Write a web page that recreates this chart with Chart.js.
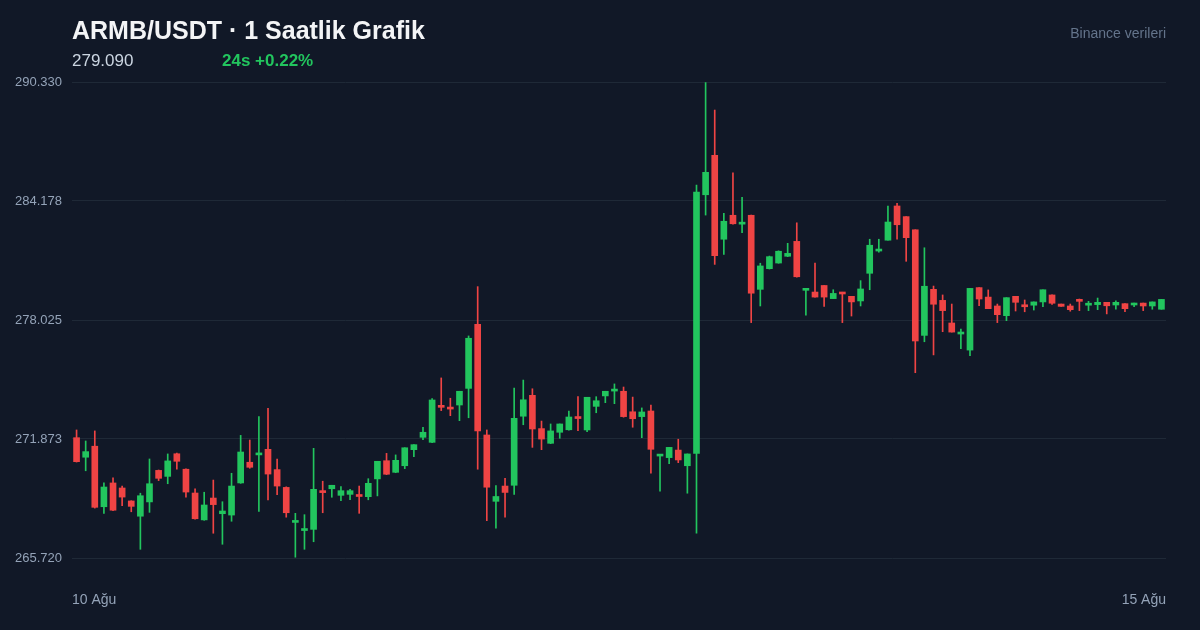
<!DOCTYPE html>
<html lang="tr">
<head>
<meta charset="utf-8">
<title>ARMB/USDT 1 Saatlik Grafik</title>
<script src="https://cdn.jsdelivr.net/npm/chart.js@4.4.1/dist/chart.umd.min.js"></script>
<style>
  html, body { margin: 0; padding: 0; background: #111827; }
  body { width: 1200px; height: 630px; position: relative; overflow: hidden; font-family: "Liberation Sans", Arial, sans-serif; }
  #wrap { position: absolute; left: 0; top: 0; width: 1200px; height: 630px; }
  .title { position: absolute; left: 72px; top: 16px; font-size: 25px; font-weight: bold; color: #f3f4f6; }
  .price { position: absolute; left: 72px; top: 51px; font-size: 17px; color: #cbd5e1; }
  .change { position: absolute; left: 222px; top: 51px; font-size: 17px; font-weight: bold; color: #22c55e; }
  .source { position: absolute; right: 34px; top: 25px; font-size: 14px; color: #64748b; }
</style>
</head>
<body>
<div id="wrap"><canvas id="myChart" width="1200" height="630"></canvas></div>
<div class="title">ARMB/USDT · 1 Saatlik Grafik</div>
<div class="price">279.090</div>
<div class="change">24s +0.22%</div>
<div class="source">Binance verileri</div>
<script>
// hourly candles, 10 Ağu -> 15 Ağu
const opens = [
  271.94, 270.93, 271.50, 268.37, 269.60, 269.34, 268.67, 267.88, 268.62, 270.25,
  269.94, 271.11, 270.31, 269.08, 267.69, 268.82, 268.01, 267.94, 269.60, 270.67,
  271.05, 271.34, 270.29, 269.37, 267.56, 267.14, 267.20, 269.17, 269.30, 268.96,
  269.01, 268.95, 268.89, 269.81, 270.75, 270.15, 270.49, 271.32, 271.96, 271.70,
  273.58, 273.50, 273.63, 274.49, 277.80, 272.08, 268.65, 269.44, 269.48, 273.05,
  274.13, 272.41, 271.65, 272.22, 272.35, 272.98, 272.34, 273.56, 274.10, 274.35,
  274.34, 273.28, 273.03, 273.32, 270.99, 270.91, 271.30, 270.49, 271.13, 284.50,
  286.54, 282.20, 283.44, 282.98, 283.44, 279.61, 280.68, 280.97, 281.32, 282.09,
  279.56, 279.47, 279.81, 279.13, 279.42, 279.25, 279.01, 280.44, 281.59, 282.15,
  283.92, 283.37, 282.69, 277.23, 279.61, 279.04, 277.87, 277.30, 276.47, 279.70,
  279.21, 278.75, 278.25, 279.25, 278.76, 278.79, 278.96, 279.32, 278.85, 278.75,
  279.04, 278.79, 278.82, 278.94, 278.80, 278.87, 278.80, 278.90, 278.75, 278.58
]
const highs = [
  272.34, 271.77, 272.29, 269.61, 269.87, 269.44, 268.68, 269.07, 270.84, 270.27,
  271.10, 271.15, 270.33, 269.30, 269.12, 269.75, 268.63, 270.10, 272.06, 271.82,
  273.03, 273.46, 270.84, 269.40, 268.03, 267.96, 271.39, 269.69, 269.48, 269.41,
  269.27, 269.44, 269.82, 270.72, 271.13, 271.05, 271.42, 271.58, 272.48, 273.96,
  275.03, 273.98, 274.34, 277.20, 279.75, 272.34, 269.46, 269.84, 274.51, 274.92,
  274.47, 272.80, 272.65, 272.65, 273.31, 274.06, 274.03, 274.06, 274.34, 274.72,
  274.56, 274.04, 273.48, 273.63, 271.05, 271.44, 271.86, 271.10, 285.00, 290.30,
  288.88, 283.54, 285.63, 284.37, 283.45, 280.96, 281.33, 281.60, 281.99, 283.05,
  279.60, 280.97, 279.81, 279.59, 279.46, 279.25, 280.06, 282.20, 282.20, 283.92,
  284.06, 283.37, 282.69, 281.76, 279.78, 279.32, 278.85, 277.56, 279.66, 279.70,
  279.58, 278.85, 279.18, 279.25, 279.06, 278.96, 279.59, 279.32, 278.85, 278.85,
  279.11, 278.99, 279.16, 278.94, 279.01, 278.87, 278.90, 278.90, 278.96, 279.09
]
const lows = [
  270.68, 270.23, 268.30, 268.03, 268.17, 268.42, 268.11, 266.17, 268.08, 269.72,
  269.56, 270.31, 268.87, 267.73, 267.67, 267.00, 266.43, 267.62, 269.58, 270.36,
  268.13, 268.72, 268.99, 267.83, 265.76, 266.17, 266.56, 268.06, 268.86, 268.68,
  268.73, 268.03, 268.73, 268.93, 270.03, 270.13, 270.34, 270.96, 271.84, 271.68,
  273.34, 273.08, 272.82, 272.97, 270.31, 267.65, 267.26, 267.83, 269.01, 272.61,
  271.44, 271.32, 271.63, 271.91, 272.33, 272.30, 272.25, 273.23, 273.75, 273.70,
  273.00, 272.48, 271.94, 270.10, 269.18, 270.60, 270.65, 269.07, 267.00, 283.45,
  280.90, 281.42, 282.98, 282.54, 277.89, 278.75, 280.66, 280.96, 281.30, 280.24,
  278.28, 279.20, 278.73, 279.13, 277.89, 278.23, 278.75, 279.59, 281.53, 282.15,
  282.20, 281.06, 275.30, 276.90, 276.22, 277.42, 277.40, 276.54, 276.18, 278.76,
  278.61, 277.89, 277.99, 278.49, 278.45, 278.54, 278.71, 278.83, 278.73, 278.48,
  278.51, 278.51, 278.56, 278.34, 278.58, 278.45, 278.71, 278.51, 278.58, 278.58
]
const closes = [
  270.70, 271.22, 268.34, 269.39, 268.19, 268.87, 268.39, 268.94, 269.56, 269.84,
  270.74, 270.72, 269.13, 267.75, 268.46, 268.48, 268.15, 269.44, 271.20, 270.41,
  271.12, 270.06, 269.44, 268.06, 267.63, 267.22, 269.27, 269.10, 269.48, 269.20,
  269.20, 268.90, 269.58, 270.72, 270.05, 270.77, 271.42, 271.58, 272.22, 273.89,
  273.51, 273.42, 274.34, 277.08, 272.29, 269.38, 268.90, 269.11, 272.94, 273.90,
  272.39, 271.87, 272.29, 272.65, 273.01, 272.93, 274.03, 273.85, 274.34, 274.43,
  273.03, 272.92, 273.27, 271.34, 271.05, 271.44, 270.79, 271.10, 284.64, 285.66,
  281.35, 283.13, 283.00, 283.03, 279.41, 280.82, 281.30, 281.58, 281.47, 280.26,
  279.60, 279.21, 279.21, 279.40, 279.37, 278.96, 279.63, 281.89, 281.64, 283.09,
  282.95, 282.28, 276.94, 279.77, 278.84, 278.51, 277.40, 277.34, 279.66, 279.11,
  278.61, 278.30, 279.18, 278.94, 278.71, 278.96, 279.59, 278.89, 278.73, 278.56,
  278.99, 278.84, 278.94, 278.76, 278.94, 278.61, 278.90, 278.75, 278.96, 279.09
]
const xTickLabels = ['10 Ağu', '15 Ağu']
const yTickValues = [265.720, 271.873, 278.025, 284.178, 290.330]

const upColor = '#22c55e'
const downColor = '#ef4444'

function candleColors() {
  let colors = []
  for (let i = 0; i < opens.length; i++) {
    colors.push(closes[i] >= opens[i] ? upColor : downColor)
  }
  return colors
}

let colors = candleColors()
let wickData = []
let bodyData = []
for (let i = 0; i < opens.length; i++) {
  wickData.push({ x: i, y: [lows[i], highs[i]] })
  bodyData.push({ x: i, y: [opens[i], closes[i]] })
}

let data = {
  datasets: [{
    label: 'wick',
    data: wickData,
    backgroundColor: colors,
    borderWidth: 0,
    barThickness: 1,
    grouped: false,
    order: 2
  }, {
    label: 'body',
    data: bodyData,
    backgroundColor: colors,
    borderWidth: 0,
    barThickness: 6,
    minBarLength: 2,
    grouped: false,
    order: 1
  }]
}

let config = {
  type: 'bar',
  data: data,
  options: {
    responsive: false,
    animation: false,
    layout: {
      padding: { left: 0, right: 34, top: 82, bottom: 0 }
    },
    plugins: {
      legend: { display: false },
      tooltip: { enabled: false }
    },
    scales: {
      x: {
        type: 'linear',
        offset: false,
        min: -0.5,
        max: opens.length - 0.5,
        grid: { display: false, offset: false },
        border: { display: false },
        afterBuildTicks: function (scale) {
          scale.ticks = [{ value: -0.5 }, { value: opens.length - 0.5 }]
        },
        afterFit: function (scale) {
          scale.height = 72
        },
        ticks: {
          align: 'inner',
          maxRotation: 0,
          padding: 26,
          color: '#94a3b8',
          font: { family: 'Liberation Sans', size: 14 },
          callback: function (value, index) {
            return xTickLabels[index]
          }
        }
      },
      y: {
        min: yTickValues[0],
        max: yTickValues[yTickValues.length - 1],
        grid: { color: '#1f2937', lineWidth: 1, drawTicks: false },
        border: { display: false },
        afterBuildTicks: function (scale) {
          scale.ticks = yTickValues.map(v => ({ value: v }))
        },
        afterFit: function (scale) {
          scale.width = 72
        },
        ticks: {
          padding: 10,
          color: '#94a3b8',
          font: { family: 'Liberation Sans', size: 13 },
          callback: function (value) {
            return Number(value).toFixed(3)
          }
        }
      }
    }
  }
}

myChart = new Chart(document.getElementById('myChart'), config)
</script>
</body>
</html>
